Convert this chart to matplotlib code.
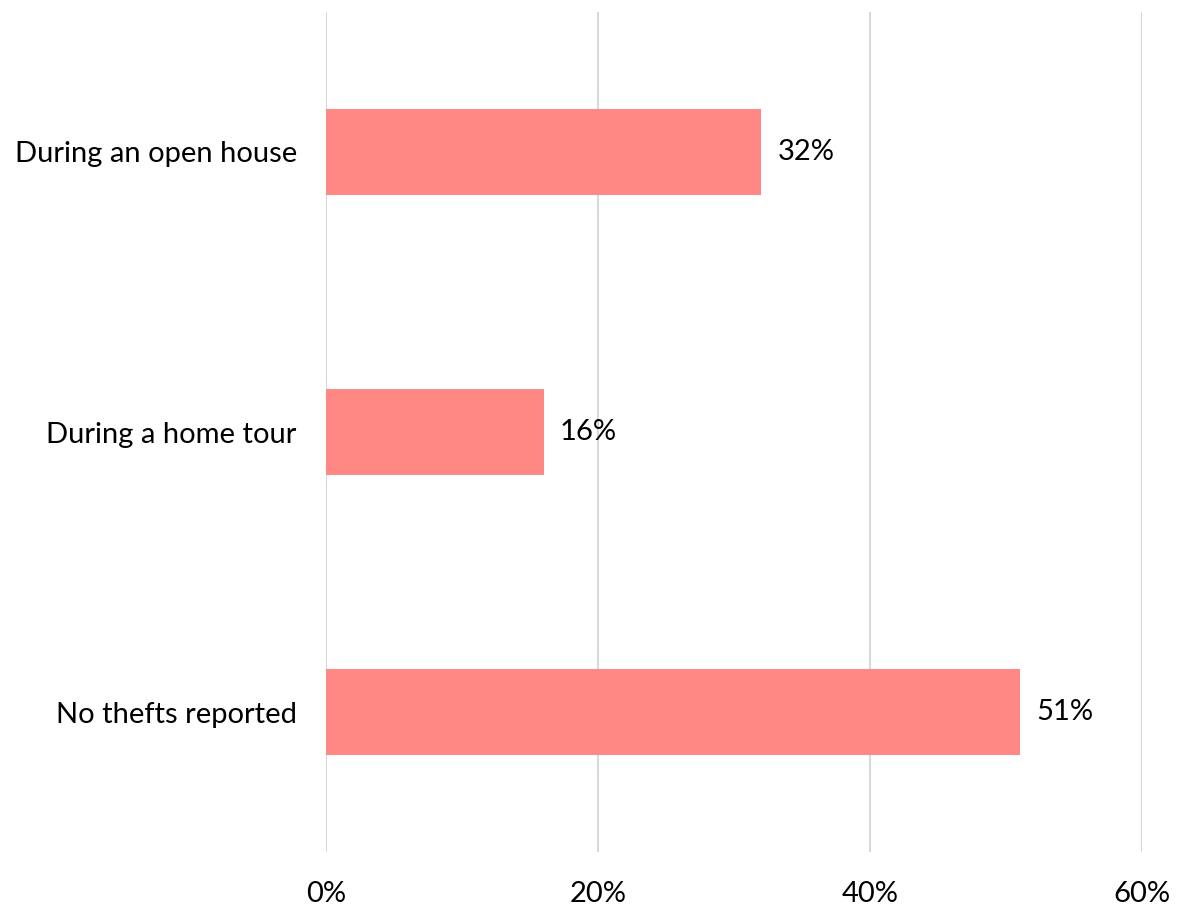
import matplotlib
matplotlib.use("Agg")
import matplotlib.pyplot as plt

categories = ["During an open house", "During a home tour", "No thefts reported"]
values = [32, 16, 51]
ticks = [0, 20, 40, 60]

plt.rcParams["font.family"] = ["Lato", "DejaVu Sans"]

fig = plt.figure(figsize=(11.85, 9.07), dpi=100)
ax = fig.add_axes([0.2751, 0.0606, 0.6886, 0.9262])

y = list(range(len(categories)))
ax.barh(y, values, height=0.31, color="#FF8784", zorder=3)
for yi, v in zip(y, values):
    ax.text(v + 1.2, yi, f"{v}%", va="center", ha="left", fontsize=21, color="#000000")

ax.set_xlim(0, 60)
ax.set_ylim(2.5, -0.5)
ax.set_xticks(ticks)
ax.set_xticklabels([f"{t}%" for t in ticks])
ax.set_yticks(y)
ax.set_yticklabels(categories)
ax.tick_params(axis="both", length=0, labelsize=21, colors="#000000")
ax.tick_params(axis="y", pad=21)
ax.tick_params(axis="x", pad=21)
ax.grid(axis="x", color="#D9D9D9", linewidth=1.5, zorder=0)
for s in ax.spines.values():
    s.set_visible(False)

fig.savefig("out.png", dpi=100)
